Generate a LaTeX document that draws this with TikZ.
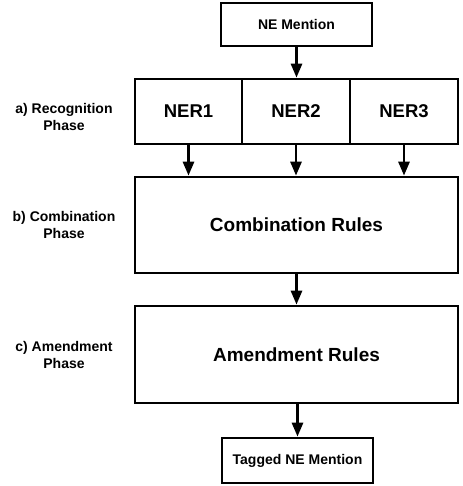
\documentclass[tikz,border=0pt]{standalone}
\usepackage{fontspec}
\setmainfont{Liberation Sans}
\usetikzlibrary{arrows.meta}
\begin{document}
\begin{tikzpicture}[x=1pt, y=-1pt,
    box/.style={draw, line width=2.7pt, inner sep=0pt},
    smalltext/.style={font=\fontsize{14}{17}\selectfont\bfseries},
    nertext/.style={font=\fontsize{18.5}{22}\selectfont\bfseries},
    bigtext/.style={font=\fontsize{19}{23}\selectfont\bfseries},
    arr/.style={-{Triangle[length=14pt,width=11pt]}, line width=2.7pt},
    phase/.style={align=center, smalltext}]
      \useasboundingbox (0,0) rectangle (462,486);
      \def\cx{296.5}
      \def\wide{323pt}
      %
      \node[box, smalltext, minimum width=151pt, minimum height=43pt] (ne) at (\cx,24.5) {NE Mention};   % input
      %
      \node[box, nertext, minimum width=107pt, minimum height=65pt] (ner1) at (188.5,111.5) {NER1};
      \node[box, nertext, minimum width=108pt, minimum height=65pt] (ner2) at (296,111.5) {NER2};
      \node[box, nertext, minimum width=108pt, minimum height=65pt] (ner3) at (404,111.5) {NER3};
      %
      \node[box, bigtext, minimum width=\wide, minimum height=96pt] (comb) at (\cx,225) {Combination Rules};
      \node[box, bigtext, minimum width=\wide, minimum height=97pt] (amend) at (\cx,354.5) {Amendment Rules};
      %
      \node[box, smalltext, minimum width=151pt, minimum height=45pt] (tagged) at (297.5,460.5) {Tagged NE Mention};   % output
      %
      \node[phase] (pha) at (64,117) {a) Recognition\\Phase};
      \node[phase] (phb) at (64,224.5) {b) Combination\\Phase};
      \node[phase] (phc) at (64,354.5) {c) Amendment\\Phase};
      %
      \draw[arr] (ne) -- (ne |- ner2.north);
      \draw[arr] (ner1) -- (ner1 |- comb.north);
      \draw[arr] (ner2) -- (ner2 |- comb.north);
      \draw[arr] (ner3) -- (ner3 |- comb.north);
      \draw[arr] (comb.south) -- (amend.north);
      \draw[arr] (amend.south -| tagged) -- (tagged.north);
      %
    \end{tikzpicture}
\end{document}
